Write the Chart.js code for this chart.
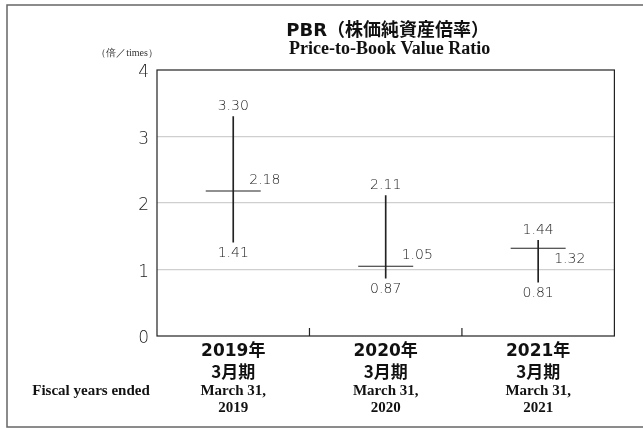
<!DOCTYPE html>
<html>
<head>
<meta charset="utf-8">
<script src="https://cdn.jsdelivr.net/npm/chart.js@4"></script>
<style>
  html, body { margin: 0; padding: 0; background: #fff; }
  #wrap { width: 643px; height: 428px; position: relative; }
</style>
</head>
<body>
<div id="wrap"><canvas id="pbrChart"></canvas></div>
<script>
// PBR（株価純資産倍率）: 期中高値・安値と期末値
const categories = [['2019年', '3月期'], ['2020年', '3月期'], ['2021年', '3月期']];
const categoriesEn = [['March 31,', '2019'], ['March 31,', '2020'], ['March 31,', '2021']];
const highValues = [3.30, 2.11, 1.44];
const lowValues = [1.41, 0.87, 0.81];
const closeValues = [2.18, 1.05, 1.32];
const yTicks = [0, 1, 2, 3, 4];

const JP = "'Noto Sans CJK JP', 'Noto Sans', sans-serif";
const NUM = "'DejaVu Sans', 'Noto Sans CJK JP', sans-serif";
const SERIF = "'Liberation Serif', 'DejaVu Serif', serif";
const INK = '#222';

// タイトル・枠線・軸ラベル・数値ラベル
const decorPlugin = {
    id: 'decor',
    afterDraw(chart) {
        const { ctx, chartArea: a, scales: { x, y } } = chart;
        ctx.save();

        // 外枠
        ctx.strokeStyle = '#666';
        ctx.lineWidth = 1.5;
        ctx.strokeRect(7, 5, 660, 422);

        // プロット枠
        ctx.strokeStyle = INK;
        ctx.lineWidth = 1.2;
        ctx.strokeRect(a.left, a.top, a.right - a.left, a.bottom - a.top);

        // カテゴリ境界の目盛り
        for (let i = 0; i < categories.length - 1; i++) {
            const bx = (x.getPixelForValue(i) + x.getPixelForValue(i + 1)) / 2;
            ctx.beginPath();
            ctx.moveTo(bx, a.bottom);
            ctx.lineTo(bx, a.bottom - 8);
            ctx.stroke();
        }

        // 縦軸の目盛りラベル
        ctx.fillStyle = '#222';
        ctx.textAlign = 'right';
        ctx.textBaseline = 'middle';
        ctx.font = `300 17px ${NUM}`;
        yTicks.forEach(v => ctx.fillText(String(v), a.left - 8, y.getPixelForValue(v) + 3));

        // タイトル
        const cx = (a.left + a.right) / 2 + 2;
        ctx.fillStyle = '#111';
        ctx.textAlign = 'center';
        ctx.font = `bold 18px ${NUM}`;
        ctx.fillText('PBR（株価純資産倍率）', cx, 31);
        ctx.font = `bold 18px ${SERIF}`;
        ctx.fillText('Price-to-Book Value Ratio', cx + 2, 49);

        // 単位
        ctx.fillStyle = '#333';
        ctx.font = `10px ${SERIF}`;
        ctx.fillText('（倍／times）', 127, 53);

        // 期表示（日本語・英語）
        ctx.fillStyle = '#111';
        categories.forEach((lines, i) => {
            const px = x.getPixelForValue(i);
            ctx.font = `bold 17px ${NUM}`;
            ctx.fillText(lines[0], px, 352);
            ctx.font = `bold 17px ${JP}`;
            ctx.fillText(lines[1], px, 372);
            ctx.font = `bold 15px ${SERIF}`;
            ctx.fillText(categoriesEn[i][0], px, 391);
            ctx.fillText(categoriesEn[i][1], px, 408);
        });
        ctx.font = `bold 15px ${SERIF}`;
        ctx.fillText('Fiscal years ended', 91, 391);

        // 数値ラベル
        ctx.fillStyle = '#222';
        ctx.font = `300 14px ${NUM}`;
        highValues.forEach((hi, i) => {
            const px = x.getPixelForValue(i);
            ctx.textAlign = 'center';
            ctx.fillText(hi.toFixed(2), px, y.getPixelForValue(hi) - 10);
            ctx.fillText(lowValues[i].toFixed(2), px, y.getPixelForValue(lowValues[i]) + 11);
            // 期末値: 高値に近い場合は線の下へ
            const cy = y.getPixelForValue(closeValues[i]);
            const below = hi - closeValues[i] < 0.3;
            ctx.textAlign = 'left';
            ctx.fillText(closeValues[i].toFixed(2), px + 16, below ? cy + 11 : cy - 11);
        });

        ctx.restore();
    }
};

new Chart(document.getElementById('pbrChart'), {
    data: {
        labels: categories,
        datasets: [{
            type: 'bar',
            label: '高値・安値',
            data: lowValues.map((lo, i) => [lo, highValues[i]]),
            backgroundColor: INK,
            borderWidth: 0,
            barThickness: 1
        }, {
            type: 'line',
            label: '期末',
            data: closeValues,
            showLine: false,
            pointStyle: 'line',
            pointRadius: 27.5,
            pointHoverRadius: 27.5,
            borderColor: INK,
            borderWidth: 1.1
        }]
    },
    plugins: [decorPlugin],
    options: {
        responsive: true,
        maintainAspectRatio: false,
        animation: false,
        events: [],
        layout: { padding: { top: 70, right: 26, bottom: 0, left: 0 } },
        plugins: {
            legend: { display: false },
            tooltip: { enabled: false }
        },
        scales: {
            x: {
                offset: true,
                grid: { display: false },
                border: { display: false },
                ticks: { display: false },
                afterFit(scale) { scale.height = 92; }
            },
            y: {
                min: yTicks[0],
                max: yTicks[yTicks.length - 1],
                afterBuildTicks(scale) { scale.ticks = yTicks.map(v => ({ value: v })); },
                grid: {
                    drawTicks: false,
                    color: c => (c.tick && c.tick.value > yTicks[0] && c.tick.value < yTicks[yTicks.length - 1]) ? '#cfcfcf' : 'rgba(0,0,0,0)',
                    lineWidth: 1.2
                },
                border: { display: false },
                ticks: { display: false },
                afterFit(scale) { scale.width = 157; }
            }
        }
    }
});
</script>
</body>
</html>
